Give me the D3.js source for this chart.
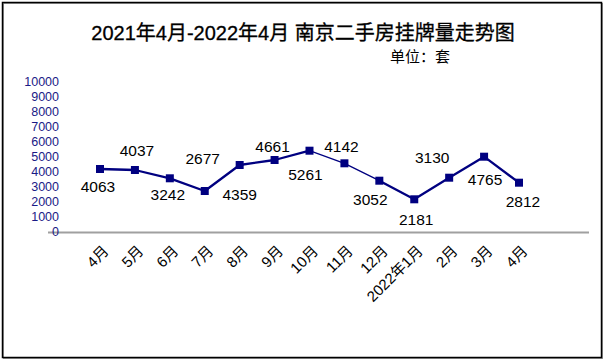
<!DOCTYPE html>
<html>
<head>
<meta charset="utf-8">
<script src="https://cdn.jsdelivr.net/npm/d3@7"></script>
<style>
  body { margin: 0; background: #fff; }
  #chart text { font-family: "Liberation Sans", "Noto Sans CJK SC", sans-serif; }
</style>
</head>
<body>
<div id="chart"></div>
<script>
// categories (x axis)
var months = ["4月", "5月", "6月", "7月", "8月", "9月", "10月", "11月", "12月", "2022年1月", "2月", "3月", "4月"];
// where the markers sit in the picture (套)
var listings = [4180, 4113, 3560, 2713, 4447, 4780, 5400, 4560, 3400, 2160, 3600, 5000, 3267];
// printed data labels
var labelText = ["4063", "4037", "3242", "2677", "4359", "4661", "5261", "4142", "3052", "2181", "3130", "4765", "2812"];
// y tick values
var yTicks = [0, 1000, 2000, 3000, 4000, 5000, 6000, 7000, 8000, 9000, 10000];

// label nudges (px) relative to each marker
var labelDx = [-2, 2, -2, -2, 0, -2, -4, -3, -9, 2, -17, 1, 4];
var labelDy = [17, -20, 16, -33, 30, -14, 24, -17, 19, 20, -20, 23, 19];

var width = 607, height = 364;
var navy = "#000080";

var svg = d3.select("#chart")
  .append("svg")
  .attr("width", width)
  .attr("height", height);

svg.append("rect")
  .attr("width", width).attr("height", height)
  .attr("fill", "#fff");

// frame with a small grey shadow
svg.append("rect")
  .attr("x", 3.5).attr("y", 3.5)
  .attr("width", 599).attr("height", 355)
  .attr("fill", "none").attr("stroke", "#9a9a9a").attr("stroke-width", 1);
svg.append("rect")
  .attr("x", 2.5).attr("y", 2.5)
  .attr("width", 599).attr("height", 355)
  .attr("fill", "none").attr("stroke", "#000").attr("stroke-width", 1.5);

// titles
svg.append("text")
  .attr("x", 303).attr("y", 40)
  .attr("text-anchor", "middle")
  .style("font-size", "20px")
  .style("stroke", "#000").style("stroke-width", 0.3)
  .attr("fill", "#000")
  .text("2021年4月-2022年4月 南京二手房挂牌量走势图");

svg.append("text")
  .attr("x", 390).attr("y", 62)
  .style("font-size", "15px")
  .attr("fill", "#000")
  .text("单位：套");

// scales
var x = d3.scalePoint()
  .domain(d3.range(months.length))
  .range([100, 519]);

var y = d3.scaleLinear()
  .domain([0, 10000])
  .range([231.7, 81.7]);

// category axis line
svg.append("line")
  .attr("x1", 48).attr("x2", 589)
  .attr("y1", 232.5).attr("y2", 232.5)
  .attr("stroke", "#a0a0a0").attr("stroke-width", 2);

// y axis labels
var yAxis = d3.axisLeft(y)
  .tickValues(yTicks)
  .tickSize(0)
  .tickPadding(0)
  .tickFormat(d3.format("d"));

var gy = svg.append("g")
  .attr("transform", "translate(59,0)")
  .call(yAxis);
gy.select(".domain").remove();
gy.selectAll("text")
  .attr("fill", "#1a1a86")
  .style("font-family", "'Liberation Sans', sans-serif")
  .style("font-size", "12.5px");

// x axis labels, rotated
var xAxis = d3.axisBottom(x)
  .tickSize(0)
  .tickFormat(function(i) { return months[i]; });

var gx = svg.append("g")
  .attr("transform", "translate(0,232)")
  .call(xAxis);
gx.select(".domain").remove();
gx.selectAll("text")
  .attr("fill", "#000")
  .style("font-size", "15px")
  .attr("text-anchor", "end")
  .attr("dy", null)
  .attr("y", 0)
  .attr("transform", "translate(9,20) rotate(-45)");

// line, drawn per segment (two segments in the picture are thinner)
var thinSegments = [6, 7];
var segments = d3.pairs(listings.map(function(d, i) { return [x(i), y(d)]; }));

svg.selectAll("line.seg")
  .data(segments)
  .enter()
  .append("line")
  .attr("class", "seg")
  .attr("x1", function(d) { return d[0][0]; })
  .attr("y1", function(d) { return d[0][1]; })
  .attr("x2", function(d) { return d[1][0]; })
  .attr("y2", function(d) { return d[1][1]; })
  .attr("stroke", navy)
  .attr("stroke-linecap", "round")
  .attr("stroke-width", function(d, i) { return thinSegments.indexOf(i) >= 0 ? 1.3 : 2.3; });

// markers
svg.selectAll("rect.pt")
  .data(listings)
  .enter()
  .append("rect")
  .attr("class", "pt")
  .attr("x", function(d, i) { return x(i) - 4; })
  .attr("y", function(d) { return y(d) - 4; })
  .attr("width", 8)
  .attr("height", 8)
  .attr("fill", navy);

// data labels
svg.selectAll("text.lbl")
  .data(listings)
  .enter()
  .append("text")
  .attr("class", "lbl")
  .attr("x", function(d, i) { return x(i) + labelDx[i]; })
  .attr("y", function(d, i) { return y(d) + labelDy[i]; })
  .attr("text-anchor", "middle")
  .attr("dominant-baseline", "central")
  .style("font-size", "15.5px")
  .attr("fill", "#000")
  .text(function(d, i) { return labelText[i]; });
</script>
</body>
</html>
